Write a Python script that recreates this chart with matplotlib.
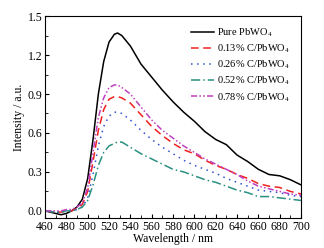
import matplotlib
matplotlib.use("Agg")
import matplotlib.pyplot as plt
from matplotlib.ticker import MultipleLocator

plt.rcParams['font.family'] = ['Liberation Serif', 'DejaVu Serif']
plt.rcParams['mathtext.fontset'] = 'stix'

wavelength = [460, 470, 475, 480, 485, 490, 495, 500, 505, 510, 515, 520, 525, 528,
              532, 540, 550, 560, 570, 580, 590, 600, 610, 620, 630, 640, 650,
              660, 670, 680, 690, 700]

pure = [0.0, -0.02, -0.03, -0.02, 0.0, 0.03, 0.09, 0.25, 0.55, 0.9, 1.15, 1.3, 1.36, 1.37,
        1.35, 1.27, 1.13, 1.03, 0.93, 0.84, 0.76, 0.69, 0.61, 0.55, 0.51, 0.43, 0.38,
        0.32, 0.28, 0.27, 0.24, 0.2]
c013 = [0.0, -0.01, -0.01, 0.0, 0.0, 0.02, 0.05, 0.15, 0.38, 0.62, 0.78, 0.86, 0.88, 0.88,
        0.87, 0.83, 0.74, 0.65, 0.58, 0.52, 0.47, 0.44, 0.39, 0.35, 0.32, 0.28, 0.25,
        0.21, 0.19, 0.18, 0.15, 0.13]
c026 = [0.0, -0.01, -0.01, 0.0, 0.0, 0.01, 0.03, 0.1, 0.28, 0.5, 0.65, 0.73, 0.76, 0.76,
        0.75, 0.7, 0.62, 0.55, 0.49, 0.44, 0.39, 0.35, 0.32, 0.29, 0.25, 0.22, 0.19,
        0.16, 0.15, 0.14, 0.12, 0.11]
c052 = [0.0, -0.01, -0.01, 0.0, 0.0, 0.01, 0.03, 0.08, 0.2, 0.35, 0.45, 0.5, 0.52, 0.53,
        0.53, 0.49, 0.44, 0.4, 0.36, 0.32, 0.3, 0.27, 0.24, 0.22, 0.19, 0.16, 0.14,
        0.11, 0.11, 0.1, 0.09, 0.08]
c078 = [0.0, 0.0, 0.0, 0.01, 0.01, 0.03, 0.06, 0.18, 0.45, 0.72, 0.87, 0.95, 0.97, 0.97,
        0.95, 0.9, 0.8, 0.7, 0.62, 0.56, 0.5, 0.45, 0.4, 0.36, 0.32, 0.28, 0.23,
        0.19, 0.17, 0.15, 0.13, 0.12]

labels = ['Pure PbWO$_4$', '0.13% C/PbWO$_4$', '0.26% C/PbWO$_4$',
          '0.52% C/PbWO$_4$', '0.78% C/PbWO$_4$']

fig = plt.figure(figsize=(3.24, 2.48), dpi=100)
ax = fig.add_axes([0.139, 0.121, 0.79, 0.814])

ax.plot(wavelength, pure, color='black', lw=1.1, label=labels[0])
ax.plot(wavelength, c013, color='#f02020', lw=1.1, ls=(0, (5, 3)), label=labels[1])
ax.plot(wavelength, c026, color='#3050d0', lw=1.1, ls=(0, (1, 3)), label=labels[2])
ax.plot(wavelength, c052, color='#2a9080', lw=1.1, ls=(0, (6, 2, 1, 2)), label=labels[3])
ax.plot(wavelength, c078, color='#c040c0', lw=1.1, ls=(0, (4, 1.5, 1, 1.5, 1, 1.5)), label=labels[4])

ax.set_xlim(460, 700)
ax.set_ylim(-0.055, 1.5)
ax.xaxis.set_major_locator(MultipleLocator(20))
ax.xaxis.set_minor_locator(MultipleLocator(10))
ax.yaxis.set_major_locator(MultipleLocator(0.3))
ax.yaxis.set_minor_locator(MultipleLocator(0.15))
ax.tick_params(which='both', direction='in', labelsize=8.5, pad=2)
ax.tick_params(which='major', length=3)
ax.tick_params(which='minor', length=2)
ax.set_xlabel('Wavelength / nm', fontsize=8.5, labelpad=0)
ax.set_ylabel('Intensity / a.u.', fontsize=8.5, labelpad=2)

ax.legend(loc='upper right', frameon=False, fontsize=7.5, handlelength=2.2,
          handletextpad=0.3, labelspacing=0.35, borderaxespad=0.6)

fig.savefig('out.png', dpi=100)
